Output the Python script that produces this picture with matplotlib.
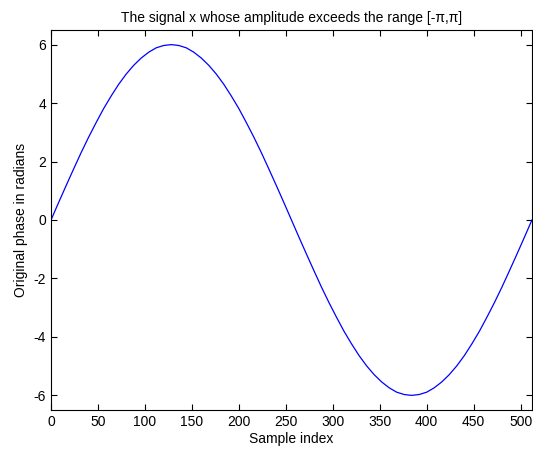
import matplotlib
matplotlib.use('Agg')
import matplotlib.pyplot as plt

plt.rcParams['font.family'] = ['Liberation Sans', 'DejaVu Sans']
plt.rcParams['axes.unicode_minus'] = False

# sample indices, every 8 samples
n = list(range(0, 513, 8))
# signal values
x = [0.00, 0.59, 1.17, 1.74, 2.30, 2.83, 3.33, 3.81, 4.24, 4.64, 4.99, 5.29,
     5.54, 5.74, 5.89, 5.97, 6.00, 5.97, 5.89, 5.74, 5.54, 5.29, 4.99, 4.64,
     4.24, 3.81, 3.33, 2.83, 2.30, 1.74, 1.17, 0.59, 0.00, -0.59, -1.17, -1.74,
     -2.30, -2.83, -3.33, -3.81, -4.24, -4.64, -4.99, -5.29, -5.54, -5.74,
     -5.89, -5.97, -6.00, -5.97, -5.89, -5.74, -5.54, -5.29, -4.99, -4.64,
     -4.24, -3.81, -3.33, -2.83, -2.30, -1.74, -1.17, -0.59, 0.00]
xticks = list(range(0, 501, 50))
yticks = list(range(-6, 7, 2))

fig = plt.figure(figsize=(5.33, 4.51), dpi=100)
ax = fig.add_axes([0.0957, 0.0909, 0.9023, 0.8426])

ax.plot(n, x, color='#0000ff', linewidth=0.9)

ax.set_xlim(0, 512)
ax.set_ylim(-6.5, 6.5)
ax.set_xticks(xticks)
ax.set_yticks(yticks)
ax.tick_params(direction='in', length=4, labelsize=10, top=True, right=True,
               labeltop=False, labelright=False, width=0.8)
for s in ax.spines.values():
    s.set_linewidth(0.8)

ax.set_title('The signal x whose amplitude exceeds the range [-\u03c0,\u03c0]',
             fontsize=10, pad=6)
ax.set_xlabel('Sample index', fontsize=10, labelpad=2)
ax.set_ylabel('Original phase in radians', fontsize=10, labelpad=4)

fig.savefig('out.png', dpi=100)
